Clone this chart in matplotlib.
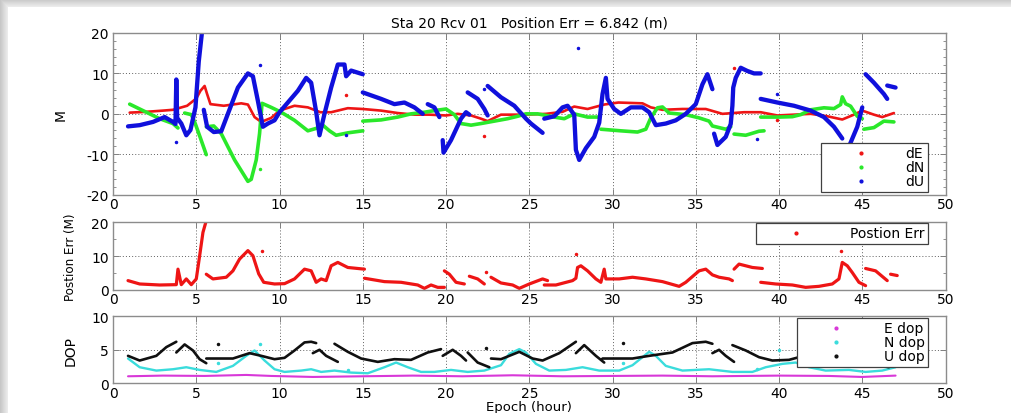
import numpy as np
import matplotlib
matplotlib.use("Agg")
import matplotlib.pyplot as plt
from matplotlib.lines import Line2D
from matplotlib.ticker import MultipleLocator

nan = np.nan

# ---------------- ENU position error (m) ----------------
dE_hour = [1.0, 2.0, 3.0, 3.6, 4.45, 5.0, 5.25, 5.5, 5.65, 5.85, 6.65, 7.7, 8.1, 8.5, 8.9,
           9.5, 10.0, 10.9, 11.7, 12.45, 13.1, 14.1, 15.0, 16.1, 17.1, 18.1, 19.0, 20.0,
           20.7, 21.5, 22.1, 22.5, 23.3, 24.8, 26.0, 27.0, 27.7, 28.5, 29.5, 30.35, 31.8,
           32.3, 33.0, 34.2, 35.6, 36.6, 37.9, 38.9, 39.9, 41.9, 42.9, 43.8, 44.5, 45.0,
           45.7, 46.2, 46.9]
dE_val = [0.3, 0.5, 0.8, 1.0, 2.0, 3.8, 5.7, 6.9, 4.9, 2.4, 2.0, 2.6, 2.3, -0.8, -2.0,
          -1.0, 0.8, 2.0, 1.6, 0.4, 0.4, 1.4, 1.2, 0.8, 0.2, -0.2, -0.2, -0.4,
          0.0, -0.4, -1.2, -1.8, -0.2, -0.2, 0.0, 0.5, 1.8, 1.2, 2.3, 2.8, 2.6,
          1.6, 1.0, 1.2, 1.2, 0.0, 0.4, 0.4, -0.4, 0.0, -0.6, -1.4, -0.2, 0.8,
          -0.2, -0.8, 0.2]

dN_hour = [1.0, 1.6, 2.2, 2.8, 3.6, 3.9, nan, 4.3, 4.7, 4.9, 5.25, 5.6, nan,
           5.6, 6.05, 6.5, 7.3, 8.1, 8.3, 8.6, 8.8, 8.95, 9.5, 10.1, 10.9, 11.7, 12.2,
           12.6, 13.0, 13.4, 14.1, 15.0, nan,
           15.0, 16.1, 17.1, 17.9, 18.7, 19.3, 20.0, 20.5, 20.9, 21.5, 22.1, 22.9, 23.7,
           24.3, 24.8, 25.5, 26.5, 27.1, 27.7, 28.5, 29.2, nan,
           29.3, 30.5, 31.5, 32.0, 32.3, 32.7, 33.0, 33.4, 34.4, 35.2, 35.8, 36.0, 36.8,
           37.1, nan, 37.3, 38.0, 38.8, 39.1, nan,
           38.9, 40.0, 40.8, 41.3, 41.9, 42.7, 43.3, 43.7, 43.8, 44.0, 44.3, 44.7, 45.0,
           nan, 45.1, 45.7, 46.3, 46.9]
dN_val = [2.4, 1.2, 0.0, -1.2, -2.4, -3.5, nan, 0.2, -0.2, -2.0, -6.0, -10.1, nan,
          -3.2, -3.0, -4.9, -11.4, -16.7, -16.2, -11.4, -4.9, 2.6, 1.6, 0.4, -1.6, -4.2, -3.6,
          -2.8, -4.2, -5.3, -4.7, -4.2, nan,
          -1.8, -1.5, -0.8, 0.0, 0.4, 0.8, 1.2, -0.2, -2.4, -2.8, -2.4, -1.8, -1.2,
          -0.6, 0.0, 0.0, -0.8, -1.2, 0.0, -0.8, -0.8, nan,
          -3.8, -4.2, -4.5, -3.8, -1.0, 1.5, 1.7, 0.2, -0.2, -1.0, -1.8, -3.0, -3.8,
          -3.2, nan, -5.0, -5.3, -4.3, -4.2, nan,
          -0.8, -0.8, -0.7, -0.2, 1.0, 1.5, 1.3, 2.3, 4.2, 2.5, 1.9, -0.6, -1.2,
          nan, -3.8, -3.4, -1.8, -2.0]

dU_hour = [0.9, 1.6, 2.4, 3.1, 3.6, 3.75, 3.8, 3.85, 4.1, 4.4, 4.65, 4.95, 5.15, 5.35, nan,
           5.45, 5.65, 6.05, 6.5, 6.9, 7.5, 8.1, 8.4, 8.7, 9.0, 9.3, 9.7, 10.0, 10.5, 11.1,
           11.6, 11.9, 12.2, 12.4, 12.7, 13.1, 13.5, 13.9, 14.0, 14.3, 15.0, nan,
           15.0, 16.1, 16.9, 17.5, 18.1, 18.6, nan, 18.9, 19.3, 19.6, nan,
           19.8, 19.85, 20.3, 20.9, 21.2, 21.4, nan, 21.3, 21.9, 22.3, 22.5, nan,
           22.5, 23.3, 24.1, 24.8, 25.1, 25.8, nan,
           25.9, 26.5, 27.0, 27.3, 27.7, 27.8, 28.0, 28.4, 28.9, 29.2, 29.4, 29.6, 29.7,
           30.1, 30.5, 31.1, 31.8, 32.2, 32.6, 33.2, 33.8, 34.4, 35.0, 35.4, 35.7, 36.0, nan,
           36.1, 36.3, 36.8, 37.1, 37.2, 37.25, 37.4, 37.7, 38.1, 38.5, 38.9, nan,
           38.9, 39.9, 40.9, 41.9, 42.7, 43.3, 43.8, nan, 44.2, 44.7, 45.0, nan,
           45.2, 45.7, 46.3, 46.5, nan, 46.5, 47.0]
dU_val = [-3.1, -2.8, -2.0, -0.8, -2.0, -2.5, 8.5, -1.0, -2.4, -5.3, -4.0, 1.6, 13.0, 20.5, nan,
          1.0, -3.2, -4.5, -4.3, 0.0, 6.5, 10.0, 9.3, 3.2, -3.2, -2.4, -1.6, 0.4, 2.8, 5.7,
          8.9, 7.7, 0.5, -5.3, 0.0, 6.5, 12.2, 12.2, 9.3, 10.7, 9.8, nan,
          5.3, 3.7, 2.4, 2.8, 1.6, 0.0, nan, 2.4, 1.6, -0.8, nan,
          -6.5, -9.6, -6.5, -1.2, 0.4, -0.2, nan, 5.3, 3.7, 1.2, -0.4, nan,
          6.9, 4.1, 2.0, -1.2, -2.4, -4.7, nan,
          -1.2, -0.6, 1.6, 2.0, -0.2, -8.9, -11.4, -8.5, -5.7, -2.2, 4.9, 8.9, 3.7,
          1.2, 0.0, 1.6, 1.6, 0.4, -2.8, -2.4, -1.6, 0.0, 2.4, 7.3, 9.8, 6.1, nan,
          -4.9, -7.7, -5.7, -2.5, 2.0, 6.5, 8.9, 11.4, 10.6, 10.0, 10.0, nan,
          3.7, 2.8, 2.0, 0.8, -0.8, -3.2, -6.1, nan, -8.1, -3.2, 1.6, nan,
          9.8, 7.7, 4.9, 3.7, nan, 7.0, 6.5]

# isolated fixes
dE_out_hour = [14.0, 22.3, 37.3, 39.9]
dE_out_val = [4.7, -5.4, 11.4, -1.6]
dN_out_hour = [8.85]
dN_out_val = [-13.7]
dU_out_hour = [3.8, 8.8, 27.9, 22.3, 39.9, 38.7, 14.0]
dU_out_val = [-7.0, 12.0, 16.3, 6.1, 5.0, -6.1, -5.3]

# ---------------- 3D position error (m) ----------------
pos_hour = [0.9, 1.6, 2.8, 3.8, 3.9, 4.1, 4.4, 4.7, 5.0, 5.2, 5.4, 5.6, nan,
            5.6, 6.0, 6.8, 7.2, 7.6, 8.1, 8.4, 8.75, 9.05, 9.7, 10.3, 10.9, 11.5, 11.9,
            12.2, 12.5, 12.8, 13.1, 13.5, 14.1, 15.1, nan,
            15.1, 16.3, 17.3, 18.3, 18.7, 19.1, 19.5, 19.9, nan,
            19.9, 20.2, 20.6, 21.1, nan, 21.4, 21.9, 22.3, nan,
            22.7, 23.3, 24.0, 24.4, 25.0, 25.8, 26.1, nan,
            25.9, 26.6, 27.6, 27.8, 27.9, 28.1, 28.5, 29.0, 29.3, 29.5, 29.6, 30.4, 31.2,
            32.0, 33.0, 34.0, 34.4, 35.2, 35.6, 36.0, 36.4, 37.0, 37.2, nan,
            37.3, 37.6, 38.4, 39.0, nan,
            38.9, 39.8, 40.8, 41.6, 42.4, 43.2, 43.6, 43.8, 44.1, 44.4, 44.8, 45.2, nan,
            45.2, 45.8, 46.5, nan, 46.7, 47.1]
pos_val = [2.7, 1.7, 1.4, 1.5, 6.1, 1.5, 3.2, 1.5, 3.2, 10.0, 17.0, 20.5, nan,
           4.6, 3.2, 3.7, 5.6, 9.1, 11.6, 10.1, 4.7, 2.2, 1.7, 1.8, 3.2, 6.1, 5.6,
           2.2, 3.2, 2.7, 7.1, 8.1, 6.6, 6.1, nan,
           3.4, 2.4, 2.2, 1.4, 0.4, 1.4, 0.7, 0.7, nan,
           5.6, 4.6, 2.2, 1.7, nan, 4.0, 3.2, 1.7, nan,
           3.7, 2.0, 1.4, 0.4, 1.7, 3.2, 2.7, nan,
           1.4, 1.4, 2.7, 3.4, 6.6, 7.1, 5.6, 3.2, 2.2, 6.1, 3.2, 3.2, 3.7,
           3.2, 2.4, 1.0, 2.2, 5.6, 6.1, 4.4, 3.7, 3.2, 2.7, nan,
           6.1, 7.6, 6.6, 6.3, nan,
           2.2, 1.7, 1.4, 0.7, 1.0, 1.7, 3.2, 8.1, 7.1, 5.1, 2.2, 1.2, nan,
           6.3, 5.6, 2.7, nan, 4.6, 4.2]
pos_out_hour = [8.95, 27.8, 43.7, 22.4]
pos_out_val = [11.6, 10.6, 11.6, 5.3]

# ---------------- dilution of precision ----------------
Edop_hour = [0.9, 3.0, 5.5, 8.0, 9.5, 12.0, 15.0, 18.0, 21.0, 24.0, 27.0, 30.0, 33.0,
             36.0, 40.0, 43.0, 45.0, 47.0]
Edop_val = [1.05, 1.15, 1.1, 1.25, 1.1, 0.95, 1.05, 1.15, 1.05, 1.2, 1.05, 1.1, 1.15,
            1.05, 1.15, 1.1, 0.95, 1.15]

Ndop_hour = [0.9, 1.6, 2.6, 3.6, 4.4, 5.2, 6.2, 7.2, 8.0, 8.5, 9.1, 9.7, 10.3, 11.3, 11.9,
             12.5, 13.3, 14.3, 15.3, 16.3, 17.0, 17.7, 18.5, 19.3, 20.3, 21.3, 22.3, 23.3,
             23.8, 24.4, 24.8, 25.4, 26.2, 27.2, 28.2, 29.2, 30.4, 31.2, 32.2, 32.6, 33.2,
             34.2, 35.8, 37.2, 38.4, 39.2, 40.2, 41.0, 41.8, 42.8, 44.2, 45.2, 46.2, 47.0]
Ndop_val = [3.7, 2.4, 1.9, 2.1, 2.4, 2.0, 1.7, 2.6, 4.1, 4.9, 3.4, 2.1, 1.7, 1.9, 2.1,
            1.7, 1.9, 1.6, 1.5, 2.4, 3.1, 2.4, 1.7, 1.7, 2.0, 1.7, 1.9, 2.7,
            4.4, 5.1, 4.6, 2.9, 1.9, 2.0, 2.4, 1.9, 1.9, 2.7, 4.7, 4.1, 2.6,
            1.9, 2.1, 1.7, 1.7, 2.4, 2.9, 3.1, 2.4, 1.9, 2.0, 1.7, 1.9, 2.4]

Udop_hour = [0.9, 1.6, 2.6, 3.2, 3.8, nan, 3.8, 4.3, 4.8, 5.2, 5.6, nan,
             5.6, 7.2, 8.2, 8.9, 9.7, 10.3, 10.9, 11.5, 11.9, 12.2, nan,
             12.0, 12.4, 12.8, 13.5, nan,
             13.3, 14.1, 14.9, 15.9, 16.9, 17.9, 18.9, 19.7, nan,
             19.8, 20.4, 20.9, 21.2, nan, 21.3, 21.9, 22.6, nan,
             22.7, 23.3, 24.2, 24.4, 25.2, 25.8, 26.8, 27.8, nan,
             27.8, 28.3, 29.0, 29.5, nan,
             29.4, 31.2, 32.2, 33.6, 34.8, 35.6, 36.0, nan,
             36.0, 36.4, 36.8, 37.3, nan,
             37.2, 38.0, 38.8, 39.6, 40.6, 41.2, 42.5, 43.5, 44.5, 45.2, 46.6]
Udop_val = [4.1, 3.4, 4.1, 5.4, 6.2, nan, 4.6, 5.8, 4.9, 3.6, 3.0, nan,
            3.7, 3.7, 4.5, 4.1, 3.6, 3.8, 4.9, 6.1, 6.2, 6.0, nan,
            4.5, 5.0, 4.1, 3.2, nan,
            5.9, 4.7, 3.7, 3.2, 3.6, 3.5, 4.6, 5.1, nan,
            4.1, 5.0, 4.1, 3.4, nan, 4.6, 3.1, 2.4, nan,
            3.7, 3.6, 4.5, 4.7, 3.7, 3.4, 4.5, 6.2, nan,
            4.5, 5.7, 4.1, 3.1, nan,
            3.7, 3.7, 4.1, 4.6, 6.0, 6.2, 5.9, nan,
            4.5, 5.0, 4.1, 3.2, nan,
            5.7, 4.9, 3.9, 3.4, 3.5, 3.9, 4.6, 4.4, 3.6, 3.1, 2.4]

Udop_out_hour = [6.3, 22.4, 30.6]
Udop_out_val = [5.9, 5.3, 6.0]
Ndop_out_hour = [8.85, 6.3, 14.1, 30.6, 38.7, 40.0]
Ndop_out_val = [5.9, 3.0, 2.0, 3.1, 2.2, 4.9]

title_text = "Sta 20 Rcv 01   Position Err = 6.842 (m)"

# ---------------- styling ----------------
plt.rcParams["font.family"] = ["DejaVu Sans"]
plt.rcParams["axes.unicode_minus"] = False

RED = "#ee1515"
GREEN = "#2ae82a"
BLUE = "#1010dc"
BLACK = "#101010"
CYAN = "#3adcdc"
MAGENTA = "#d838d8"

W, H = 1012, 414
fig = plt.figure(figsize=(W / 100, H / 100), dpi=100)

# soft grey shadow around a white card
bg = fig.add_axes([0, 0, 1, 1], zorder=-10)
yy, xx = np.mgrid[0:H, 0:W]
dist = np.maximum(np.maximum(8 - xx, 8 - yy), 0).astype(float)
shade = np.where(dist > 0, 0.94 - 0.02 * dist, 1.0)
bg.imshow(shade, cmap="gray", vmin=0, vmax=1, extent=(0, W, H, 0), aspect="auto",
          interpolation="bilinear")
bg.set_axis_off()

ax1 = fig.add_axes([0.1117, 0.5273, 0.8226, 0.3906])
ax2 = fig.add_axes([0.1117, 0.2978, 0.8226, 0.1628])
ax3 = fig.add_axes([0.1117, 0.0717, 0.8226, 0.1619])


def style(ax, ylim, major, minor):
    ax.set_xlim(0, 50)
    ax.set_ylim(*ylim)
    ax.xaxis.set_major_locator(MultipleLocator(5))
    ax.yaxis.set_major_locator(MultipleLocator(major))
    if minor:
        ax.yaxis.set_minor_locator(MultipleLocator(minor))
    ax.tick_params(which="both", direction="in", top=True, right=True,
                   colors="#808080", labelcolor="black", labelsize=10, pad=3)
    ax.tick_params(axis="x", pad=2)
    ax.tick_params(which="major", length=4, width=0.7)
    ax.tick_params(which="minor", length=2.5, width=0.6)
    ax.grid(True, which="major", linestyle=(0, (1, 2.2)), color="#606060", linewidth=0.7)
    ax.set_axisbelow(True)
    for s in ax.spines.values():
        s.set_color("#8c8c8c")
        s.set_linewidth(1.0)


style(ax1, (-20, 20), 10, 2)
style(ax2, (0, 20), 10, 5)
style(ax3, (0, 10), 5, None)

kw = dict(solid_capstyle="round", solid_joinstyle="round")
ax1.plot(dE_hour, dE_val, color=RED, lw=1.9, **kw)
ax1.plot(dN_hour, dN_val, color=GREEN, lw=2.6, **kw)
ax1.plot(dU_hour, dU_val, color=BLUE, lw=3.1, **kw)
ax1.plot(dE_out_hour, dE_out_val, ls="none", marker=".", ms=3, color=RED)
ax1.plot(dN_out_hour, dN_out_val, ls="none", marker=".", ms=3, color=GREEN)
ax1.plot(dU_out_hour, dU_out_val, ls="none", marker=".", ms=3, color=BLUE)

ax2.plot(pos_hour, pos_val, color=RED, lw=2.3, **kw)
ax2.plot(pos_out_hour, pos_out_val, ls="none", marker=".", ms=3, color=RED)

ax3.plot(Edop_hour, Edop_val, color=MAGENTA, lw=1.5, **kw)
ax3.plot(Ndop_hour, Ndop_val, color=CYAN, lw=1.7, **kw)
ax3.plot(Udop_hour, Udop_val, color=BLACK, lw=1.9, **kw)
ax3.plot(Ndop_out_hour, Ndop_out_val, ls="none", marker=".", ms=3, color=CYAN)
ax3.plot(Udop_out_hour, Udop_out_val, ls="none", marker=".", ms=3, color=BLACK)

ax1.set_title(title_text, fontsize=10, pad=5)
ax1.set_ylabel("M", fontsize=10)
ax1.yaxis.set_label_coords(-0.054, 0.5)
ax2.set_ylabel("Postion Err (M)", fontsize=9.5, fontstretch="condensed")
ax2.yaxis.set_label_coords(-0.043, 0.5)
ax3.set_ylabel("DOP", fontsize=10)
ax3.yaxis.set_label_coords(-0.043, 0.5)
ax3.set_xlabel("Epoch (hour)", fontsize=9.5, labelpad=0)


def dot(c):
    return Line2D([], [], ls="none", marker=".", ms=4, color=c)


leg_kw = dict(fontsize=10, frameon=True, fancybox=False, framealpha=1.0,
              edgecolor="#404040", borderaxespad=0, borderpad=0.25, labelspacing=0.0)

l1 = ax1.legend([dot(RED), dot(GREEN), dot(BLUE)], ["dE", "dN", "dU"],
                loc="lower right", bbox_to_anchor=(0.979, 0.017), handlelength=5.2,
                handletextpad=0.6, **leg_kw)
l2 = ax2.legend([dot(RED)], ["Postion Err"], loc="upper right",
                bbox_to_anchor=(0.979, 0.99), handlelength=5.2, handletextpad=1.3, **leg_kw)
l3 = ax3.legend([dot(MAGENTA), dot(CYAN), dot(BLACK)], ["E dop", "N dop", "U dop"],
                loc="upper right", bbox_to_anchor=(0.979, 0.975), handlelength=5.2,
                handletextpad=0.8, **leg_kw)
for lg in (l1, l2, l3):
    lg.get_frame().set_linewidth(0.9)

fig.savefig("out.png", dpi=100)
